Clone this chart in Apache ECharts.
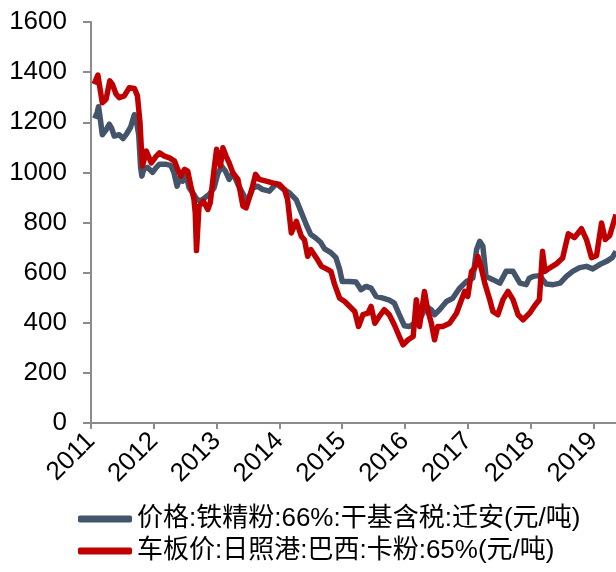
<!DOCTYPE html>
<html>
<head>
<meta charset="utf-8">
<script src="https://cdn.jsdelivr.net/npm/echarts@6/dist/echarts.min.js"></script>
<style>html,body{margin:0;padding:0;background:#fff}#c{width:616px;height:572px}</style>
</head>
<body>
<div id="c"></div>
<script>
var seriesNames = ['价格:铁精粉:66%:干基含税:迁安(元/吨)', '车板价:日照港:巴西:卡粉:65%(元/吨)'];
var yearTicks = [2011, 2012, 2013, 2014, 2015, 2016, 2017, 2018, 2019];

var grayDates = [2011.06,2011.10,2011.12,2011.15,2011.18,2011.24,2011.29,2011.33,2011.37,2011.45,2011.51,2011.57,2011.63,2011.69,2011.72,2011.76,2011.79,2011.81,2011.84,2011.90,2011.98,2012.04,2012.09,2012.20,2012.27,2012.32,2012.37,2012.42,2012.46,2012.52,2012.56,2012.62,2012.68,2012.73,2012.81,2012.88,2012.96,2013.02,2013.08,2013.14,2013.20,2013.26,2013.34,2013.44,2013.48,2013.58,2013.65,2013.73,2013.84,2013.95,2014.05,2014.16,2014.27,2014.35,2014.43,2014.50,2014.58,2014.66,2014.72,2014.82,2014.90,2014.96,2015.00,2015.12,2015.22,2015.30,2015.38,2015.46,2015.54,2015.65,2015.75,2015.83,2015.91,2015.99,2016.07,2016.15,2016.23,2016.34,2016.42,2016.47,2016.55,2016.66,2016.76,2016.87,2016.98,2017.08,2017.14,2017.19,2017.24,2017.29,2017.40,2017.51,2017.61,2017.72,2017.83,2017.93,2017.98,2018.04,2018.14,2018.25,2018.36,2018.47,2018.57,2018.67,2018.78,2018.89,2018.99,2019.10,2019.21,2019.30,2019.36];
var grayValues = [1215,1240,1262,1210,1150,1170,1192,1175,1145,1150,1135,1155,1180,1230,1210,1150,1020,985,1012,1020,1000,1020,1032,1032,1028,1000,945,980,965,985,940,918,895,885,898,912,938,995,1025,1005,972,998,952,905,878,938,945,932,925,955,935,918,890,840,790,752,738,720,695,680,660,612,565,565,563,532,545,538,505,498,490,478,432,388,385,398,412,465,452,432,452,485,498,538,565,578,692,725,705,585,572,558,605,605,558,552,578,585,588,555,552,558,585,605,620,625,615,632,645,660,685];

var redDates = [2011.05,2011.08,2011.11,2011.14,2011.18,2011.24,2011.30,2011.34,2011.40,2011.45,2011.53,2011.61,2011.69,2011.74,2011.78,2011.80,2011.82,2011.88,2011.96,2012.04,2012.09,2012.17,2012.25,2012.33,2012.38,2012.43,2012.49,2012.54,2012.59,2012.64,2012.66,2012.68,2012.72,2012.79,2012.86,2012.90,2012.96,2013.00,2013.06,2013.10,2013.15,2013.20,2013.26,2013.34,2013.42,2013.47,2013.56,2013.62,2013.68,2013.79,2013.89,2014.00,2014.08,2014.13,2014.19,2014.27,2014.35,2014.40,2014.45,2014.50,2014.61,2014.67,2014.75,2014.82,2014.88,2014.96,2015.04,2015.12,2015.20,2015.26,2015.33,2015.41,2015.46,2015.52,2015.59,2015.67,2015.75,2015.83,2015.91,2015.97,2016.05,2016.13,2016.18,2016.23,2016.31,2016.36,2016.42,2016.47,2016.52,2016.60,2016.71,2016.82,2016.90,2016.95,2017.00,2017.06,2017.11,2017.16,2017.22,2017.27,2017.35,2017.40,2017.48,2017.56,2017.64,2017.72,2017.80,2017.88,2017.99,2018.07,2018.14,2018.19,2018.23,2018.30,2018.41,2018.51,2018.60,2018.70,2018.81,2018.89,2018.97,2019.05,2019.13,2019.19,2019.26,2019.36];
var redValues = [1352,1370,1388,1340,1278,1292,1365,1352,1312,1298,1305,1338,1335,1305,1200,1105,1025,1085,1038,1065,1078,1065,1058,1045,1012,985,1012,1005,945,892,838,688,865,885,852,880,1012,1092,1025,1098,1065,1038,998,972,865,858,932,992,972,965,958,952,932,892,758,805,745,730,665,692,650,625,615,605,552,498,485,465,445,385,432,438,465,398,425,452,432,392,345,312,332,345,492,385,525,452,398,332,385,385,398,438,492,525,505,605,618,665,612,558,492,445,432,492,525,492,432,412,440,470,492,685,605,618,635,658,755,740,775,732,660,668,798,732,748,832];

function zip(a, b) { return a.map(function (d, i) { return [d, b[i]]; }); }

var chart = echarts.init(document.getElementById('c'));
var axisFont = { fontFamily: '"Liberation Sans", Arial, sans-serif', fontSize: 26, color: '#000' };
chart.setOption({
  animation: false,
  grid: { left: 91, top: 22, right: 0, bottom: 149 },
  xAxis: {
    type: 'value', min: 2011, max: 2019.36,
    splitLine: { show: false },
    axisLine: { onZero: false, lineStyle: { color: '#8c8c8c', width: 2 } },
    axisTick: { show: true, length: 6, lineStyle: { color: '#8c8c8c', width: 2 }, customValues: yearTicks },
    axisLabel: Object.assign({ rotate: 45, margin: 14, customValues: yearTicks, formatter: function (v) { return String(v); } }, axisFont)
  },
  yAxis: {
    type: 'value', min: 0, max: 1600, interval: 200,
    splitLine: { show: false },
    axisLine: { show: true, lineStyle: { color: '#8c8c8c', width: 2 } },
    axisTick: { show: true, length: 8, lineStyle: { color: '#8c8c8c', width: 2 } },
    axisLabel: Object.assign({ margin: 24, formatter: function (v) { return String(v); } }, axisFont)
  },
  legend: {
    orient: 'vertical', left: 78, top: 506, padding: 0,
    itemWidth: 54, itemHeight: 7, itemGap: 6, icon: 'roundRect',
    textStyle: { fontFamily: '"Liberation Sans", "Noto Sans CJK SC", sans-serif', fontSize: 26, color: '#000' },
    data: seriesNames
  },
  series: [
    { name: seriesNames[0], type: 'line', data: zip(grayDates, grayValues), showSymbol: false, symbol: 'none',
      lineStyle: { color: '#44546A', width: 5.5, join: 'round' }, itemStyle: { color: '#44546A' } },
    { name: seriesNames[1], type: 'line', data: zip(redDates, redValues), showSymbol: false, symbol: 'none',
      lineStyle: { color: '#C00000', width: 5.5, join: 'round' }, itemStyle: { color: '#C00000' } }
  ]
});
</script>
</body>
</html>
